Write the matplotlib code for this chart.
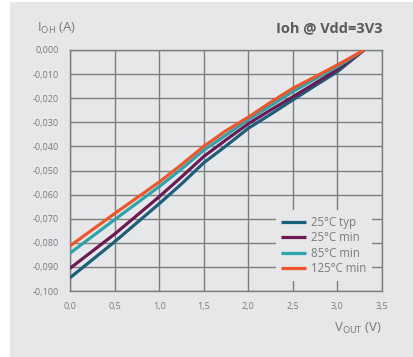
import matplotlib.pyplot as plt
from matplotlib.patches import Rectangle
from matplotlib.ticker import FuncFormatter

plt.rcParams['font.family'] = ['Open Sans', 'DejaVu Sans']
plt.rcParams['mathtext.fontset'] = 'custom'
plt.rcParams['mathtext.rm'] = 'Open Sans'

# Ioh vs Vout, Vdd = 3V3
vout = [0.0, 0.5, 1.0, 1.25, 1.5, 1.75, 2.0, 2.25, 2.5, 2.75, 3.0, 3.3]
ioh_25_typ = [-0.0945, -0.0796, -0.0638, -0.0556, -0.0468, -0.0398, -0.0325, -0.0267, -0.0207, -0.0148, -0.0090, 0.0]
ioh_25_min = [-0.0906, -0.0764, -0.0609, -0.0527, -0.0442, -0.0373, -0.0306, -0.0249, -0.0194, -0.0138, -0.0081, 0.0]
ioh_85_min = [-0.0843, -0.0704, -0.0567, -0.0494, -0.0416, -0.0353, -0.0289, -0.0231, -0.0173, -0.0120, -0.0069, 0.0]
ioh_125_min = [-0.0813, -0.0679, -0.0548, -0.0476, -0.0400, -0.0335, -0.0279, -0.0217, -0.0159, -0.0111, -0.0062, 0.0]

labels = ['25°C typ', '25°C min', '85°C min', '125°C min']
colors = ['#1b5f7a', '#6c1a52', '#2aa5ae', '#f0552a']

bg = '#e6e7e8'
txt = '#7a7a7a'
grid = '#7d7d7d'

fig = plt.figure(figsize=(4.13, 3.57), dpi=100, facecolor=bg)
# white margin on the left and top of the grey panel
fig.patches.append(Rectangle((0, 0), 10 / 413, 1, transform=fig.transFigure,
                             facecolor='white', edgecolor='none', zorder=-5))
fig.patches.append(Rectangle((0, 355 / 357), 1, 2 / 357, transform=fig.transFigure,
                             facecolor='white', edgecolor='none', zorder=-5))

ax = fig.add_axes([70 / 413, 1 - 291 / 357, 312 / 413, 241 / 357])
ax.set_facecolor(bg)

for y, lab, c in zip([ioh_25_typ, ioh_25_min, ioh_85_min, ioh_125_min], labels, colors):
    ax.plot(vout, y, color=c, lw=2.3, label=lab, solid_capstyle='butt', zorder=3)

ax.set_xlim(0, 3.5)
ax.set_ylim(-0.1, 0.0)
ax.set_xticks([i * 0.5 for i in range(8)])
ax.set_yticks([-0.01 * i for i in range(11)])
ax.xaxis.set_major_formatter(FuncFormatter(lambda v, p: f'{v:.1f}'.replace('.', ',')))
ax.yaxis.set_major_formatter(FuncFormatter(lambda v, p: f'{v:.3f}'.replace('.', ',').replace('-0,000', '0,000')))
ax.grid(True, color=grid, lw=1.0)
ax.set_axisbelow(True)
ax.tick_params(length=0, labelsize=6.5, colors=txt, pad=8)
for s in ['left', 'bottom', 'right', 'top']:
    ax.spines[s].set_color(grid)
    ax.spines[s].set_linewidth(1.0)

leg = ax.legend(loc='lower right', bbox_to_anchor=(0.968, 0.041), fontsize=8.3, frameon=True,
                handlelength=2.1, handletextpad=0.45, labelspacing=0.22, borderpad=0.5,
                borderaxespad=0)
leg.get_frame().set_facecolor(bg)
leg.get_frame().set_edgecolor('none')
leg.get_frame().set_alpha(1)
for t in leg.get_texts():
    t.set_color(txt)

fig.text(37 / 413, 1 - 28 / 357, r'I$_{\mathrm{OH}}$ (A)', fontsize=9.5, color=txt, va='center', ha='left')
fig.text(383 / 413, 1 - 28 / 357, 'Ioh @ Vdd=3V3', fontsize=10.5, color='#5a5a5a',
         fontweight='bold', va='center', ha='right')
fig.text(382 / 413, 1 - 328 / 357, r'V$_{\mathrm{OUT}}$ (V)', fontsize=9.5, color=txt, va='center', ha='right')

fig.savefig('out.png', dpi=100, facecolor=fig.get_facecolor())
